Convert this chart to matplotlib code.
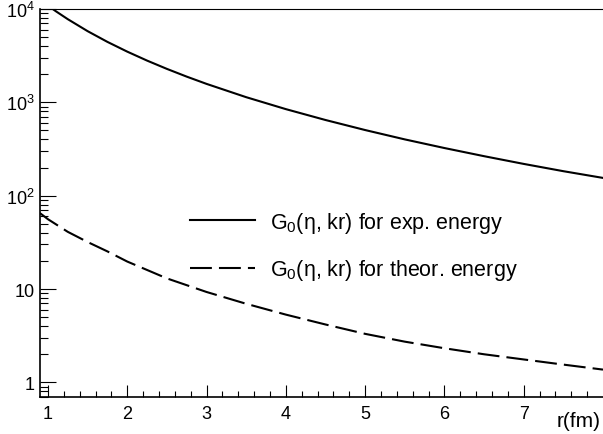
import matplotlib
matplotlib.use("Agg")
import matplotlib.pyplot as plt

# G0(eta, kr), r in fm
r_exp = [0.9, 1.0, 1.1, 1.25, 1.5, 1.75, 2.0, 2.25, 2.5, 2.75, 3.0, 3.5,
         4.0, 4.5, 5.0, 5.5, 6.0, 6.5, 7.0, 7.5, 8.0]
g_exp = [12610, 10880, 9460, 7783, 5792, 4444, 3494, 2801, 2283, 1886,
         1577, 1136, 846, 647, 505, 401, 324, 265, 219, 183, 155]

r_th = [0.9, 1.0, 1.25, 1.5, 1.75, 2.0, 2.5, 3.0, 3.5, 4.0, 4.5, 5.0,
        5.5, 6.0, 6.5, 7.0, 7.5, 8.0]
g_th = [65, 56, 41, 31.9, 25.3, 19.7, 13.0, 9.3, 6.95, 5.32, 4.17, 3.31,
        2.73, 2.32, 2.0, 1.76, 1.55, 1.37]

labels = [r"G$_0$(η, kr) for exp. energy", r"G$_0$(η, kr) for theor. energy"]
x_ticks = [1, 2, 3, 4, 5, 6, 7]
y_ticks = [1, 10, 100, 1000, 10000]
y_ticklabels = ["1", "10", "$10^{2}$", "$10^{3}$", "$10^{4}$"]

plt.rcParams['font.family'] = ['Liberation Sans', 'DejaVu Sans']
plt.rcParams['mathtext.fontset'] = 'custom'
plt.rcParams['mathtext.rm'] = 'Liberation Sans'
plt.rcParams['mathtext.it'] = 'Liberation Sans:italic'
plt.rcParams['mathtext.bf'] = 'Liberation Sans:bold'

fig = plt.figure(figsize=(6.03, 4.35), dpi=100)
ax = fig.add_axes([40/603, 37/435, 563/603, 388/435])

ax.plot(r_exp, g_exp, color='black', lw=1.5, label=labels[0])
ax.plot(r_th, g_th, color='black', lw=1.5, linestyle=(0, (10.5, 3.4)), label=labels[1])

ax.set_yscale('log')
ax.set_xlim(0.9, 8.0)
ax.set_ylim(0.697, 1e4)

# ticks: majors at integers, minors every 0.2
ax.set_xticks(x_ticks)
ax.set_xticks([1 + 0.2*i for i in range(35)], minor=True)
ax.set_yticks(y_ticks)
ax.set_yticklabels(y_ticklabels)

ax.tick_params(axis='x', which='major', direction='in', length=8.6, width=0.8,
               labelsize=13, pad=6)
ax.tick_params(axis='x', which='minor', direction='in', length=4.3, width=0.8)
ax.tick_params(axis='y', which='major', direction='in', length=11.5, width=0.8,
               labelsize=13, pad=4)
ax.tick_params(axis='y', which='minor', direction='in', length=5.8, width=0.8)

ax.spines['right'].set_visible(False)
ax.spines['top'].set_linewidth(0.8)
ax.spines['left'].set_linewidth(1.2)
ax.spines['bottom'].set_linewidth(1.2)

ax.legend(loc='upper left', bbox_to_anchor=(190/603, 1 - 211/435),
          bbox_transform=fig.transFigure, frameon=False, fontsize=15.5,
          handlelength=3.02, handletextpad=0.7, labelspacing=1.04,
          borderpad=0, borderaxespad=0)

fig.text(601/603, 8/435, "r(fm)", ha='right', va='baseline', fontsize=15)

plt.savefig("out.png", dpi=100)
